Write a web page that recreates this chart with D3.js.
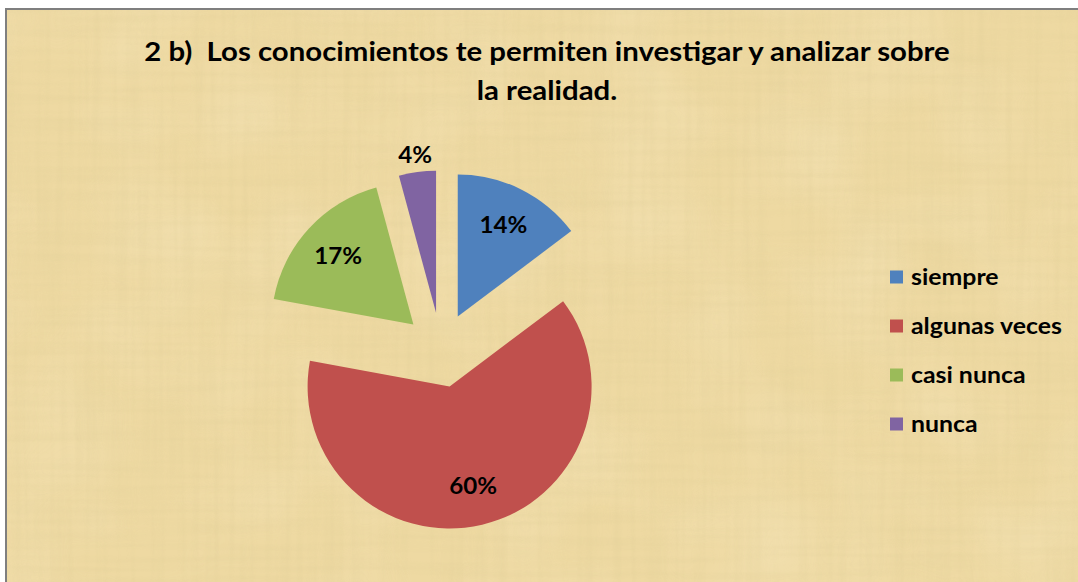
<!DOCTYPE html>
<html>
<head>
<meta charset="utf-8">
<script src="https://cdn.jsdelivr.net/npm/d3@7"></script>
<style>
  html, body { margin: 0; padding: 0; background: #ffffff; }
  svg { display: block; }
  text { white-space: pre; }
</style>
</head>
<body>
<svg id="chart" width="1078" height="582"></svg>
<script>
// ---- data ----
const categories = ["siempre", "algunas veces", "casi nunca", "nunca"];
const values = [14, 60, 17, 4];
const labels = ["14%", "60%", "17%", "4%"];
const colors = ["#4F81BD", "#C0504D", "#9BBB59", "#8064A2"];
const titleLines = ["2 b)  Los conocimientos te permiten investigar y analizar sobre", "la realidad."];

const W = 1078, H = 582;
const svg = d3.select("#chart");
const FONT = "Lato, 'Open Sans', 'DejaVu Sans', sans-serif";
const SX = 1.13; // horizontal stretch to match the wider reference glyphs

// ---- background (papyrus-like) ----
const defs = svg.append("defs");
function fibre(id, freq, seed, mat) {
  const f = defs.append("filter").attr("id", id).attr("x", 0).attr("y", 0).attr("width", "100%").attr("height", "100%");
  f.append("feTurbulence").attr("type", "fractalNoise").attr("baseFrequency", freq).attr("numOctaves", 2).attr("seed", seed).attr("result", "n");
  f.append("feColorMatrix").attr("in", "n").attr("type", "matrix").attr("values", mat);
}
const darkMat = "0 0 0 0 0.72  0 0 0 0 0.60  0 0 0 0 0.30  0 0 0 1.0 -0.38";
fibre("fib", "0.006 0.14", 3, darkMat);
fibre("fib2", "0.14 0.006", 7, darkMat);
fibre("blot", "0.01", 11, "0 0 0 0 0.99  0 0 0 0 0.92  0 0 0 0 0.72  0 0 0 0.8 -0.3");

const bg = [["#EED9A2", null, 1], [null, "blot", 0.45], [null, "fib", 0.4], [null, "fib2", 0.4]];
bg.forEach(([fill, filt, op]) => {
  const rc = svg.append("rect").attr("x", 6).attr("y", 9).attr("width", W - 6).attr("height", H - 9).attr("opacity", op);
  if (fill) rc.attr("fill", fill); else rc.attr("filter", `url(#${filt})`);
});

// frame (top and left edges visible)
svg.append("line").attr("x1", 5).attr("x2", W).attr("y1", 9).attr("y2", 9).attr("stroke", "#7f7f7f").attr("stroke-width", 2);
svg.append("line").attr("x1", 6).attr("x2", 6).attr("y1", 8).attr("y2", H).attr("stroke", "#7f7f7f").attr("stroke-width", 2);

// ---- title ----
const title = svg.append("g").attr("transform", `translate(547,0) scale(${SX},1)`);
title.selectAll("text").data(titleLines).join("text")
  .attr("x", 0).attr("y", (d, i) => 61 + i * 39)
  .attr("text-anchor", "middle")
  .attr("font-family", FONT).attr("font-weight", "bold")
  .attr("font-size", 26).attr("fill", "#000")
  .text(d => d);

// ---- pie ----
const cx = 441, cy = 350, r = 142, explode = 37.5;
const pie = d3.pie().sort(null).value(d => d.v);
const arcs = pie(values.map((v, i) => ({ v, i })));
const arc = d3.arc().innerRadius(0).outerRadius(r);
const g = svg.append("g").attr("transform", `translate(${cx},${cy})`);

const off = d => {
  const a = (d.startAngle + d.endAngle) / 2;
  return [Math.sin(a) * explode, -Math.cos(a) * explode];
};

g.selectAll("path.slice").data(arcs).join("path")
  .attr("class", "slice")
  .attr("d", arc)
  .attr("fill", d => colors[d.data.i])
  .attr("transform", d => `translate(${off(d)})`);

const labelR = d => (d.endAngle - d.startAngle) < 0.4 ? r * 1.12 : r * 0.72;
g.selectAll("text.lbl").data(arcs).join("text")
  .attr("class", "lbl")
  .attr("transform", d => {
    const a = (d.startAngle + d.endAngle) / 2;
    const x = off(d)[0] + Math.sin(a) * labelR(d), y = off(d)[1] - Math.cos(a) * labelR(d);
    return `translate(${x},${y}) scale(1.05,1)`;
  })
  .attr("dy", "0.36em")
  .attr("text-anchor", "middle")
  .attr("font-family", FONT).attr("font-weight", "bold")
  .attr("font-size", 23).attr("fill", "#000")
  .text(d => labels[d.data.i]);

// ---- legend ----
const legend = svg.append("g").attr("transform", "translate(890,0)");
const yL = d3.scalePoint().domain(categories).range([277, 424]);
const items = legend.selectAll("g").data(categories).join("g")
  .attr("transform", d => `translate(0,${yL(d)})`);
items.append("rect").attr("x", 0).attr("y", -6.5).attr("width", 13).attr("height", 13)
  .attr("fill", (d, i) => colors[i]);
items.append("text").attr("transform", `translate(21,0) scale(${SX},1)`).attr("dy", "0.36em")
  .attr("font-family", FONT).attr("font-weight", "bold").attr("font-size", 22).attr("fill", "#000")
  .text(d => d);
</script>
</body>
</html>
